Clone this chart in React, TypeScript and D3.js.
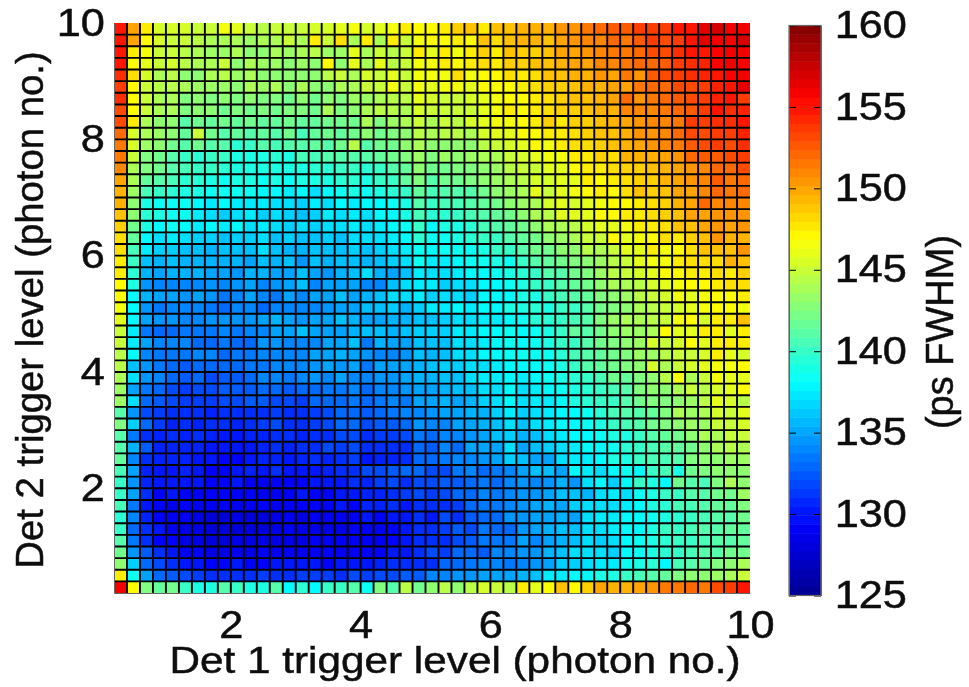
import React, { useEffect, useRef } from 'react';
import * as d3 from 'd3';

const xTicks = [2, 4, 6, 8, 10];
const yTicks = [2, 4, 6, 8, 10];
const barTicks = [125, 130, 135, 140, 145, 150, 155, 160];
const xLabel = 'Det 1 trigger level (photon no.)';
const yLabel = 'Det 2 trigger level (photon no.)';
const barLabel = '(ps FWHM)';

// jet colormap anchors, in ps
const jetValues = [125, 129.4, 138.1, 146.9, 155.6, 160];
const jetColors = ['#00008f', '#0000ff', '#00ffff', '#ffff00', '#ff0000', '#800000'];

// one row per detector 2 level, from 10 down to 0.2
const fwhmRows = [
[155,150, 147.5,145.5,145.5,145.5,145,145,146.5,146,145,144.5,145,145,145,145.5,145.5,146,146.5,145.5,146,146.5,147.5,147, 147,147.5,148.5,149,147.5,149,149,149.5,149.5,149.5,150.5,150.5,151.5,152,152.5,152.5,153.5,153.5,153.5,155,155,156.5,157,156,156],
[155,150, 147,145.5,145,145,144.5,144,144,144,143.5,144,144,145,144,147.5,145,148,144,147.5,144,147.5,145,146.5, 147,147,147.5,147,149,148,149,149.5,149.5,149,150,150.5,151,151,152,151.5,152.5,153.5,153,153.5,155,156.5,156,155.5,157],
[155,147.5, 146.5,145,145,144.5,144,143.5,143.5,144,143,143,144,143.5,144,144.5,143.5,143.5,146,144,145,144.5,145,147.5, 146,147.5,146.5,147.5,148.5,147.5,149,148.5,148.5,149,150,150,150.5,151,151.5,151.5,152,153,153,154,155,155,155.5,156,156],
[155,147, 146,145,145.5,144.5,144,144,145,143,144,143.5,143.5,143,143.5,143,147,143,146,144,146,144.5,145,146.5, 146.5,147.5,147,147.5,148,147.5,148.5,148.5,149,149,149.5,150,150,151,151,151.5,152,152,152.5,153.5,154,154.5,155.5,156,155.5],
[154,148, 145.5,144,144.5,143,143,144,144.5,143.5,144,143,143,143,143,143,144.5,145,144,145.5,145,146,145,146.5, 146.5,146.5,148,146.5,147,147,148,147.5,148,149,149,149.5,149.5,150.5,150,151.5,150.5,152.5,153,153.5,154,154.5,155,155.5,156],
[153.5,147, 145,144.5,144.5,144,143.5,143.5,143.5,143,144,143.5,144,143,144,143,143,144,144,145,145,146.5,145,146.5, 146,146.5,146.5,146,147,147,147,147.5,148,148.5,148.5,149,149.5,149.5,150,150,151.5,152,152,153,153,153.5,154.5,155,156.5],
[154,147, 145,144,144,142.5,143,142.5,143,142.5,143,142.5,142.5,142,143,142,143,142.5,143.5,143.5,144,144.5,144.5,146, 145.5,145,145,145.5,146,146.5,147,147,147.5,148,148.5,149,149,149.5,150,152,150.5,151.5,152,152.5,153,153.5,154.5,155,153.5],
[153,147, 145,144,144,142.5,143,143,142,142.5,142,142.5,142,142.5,142.5,142,144,142.5,143,144,144.5,144.5,144,145.5, 145,145,145,145,146,146.5,147.5,147,147.5,148,148.5,148.5,149,149.5,149.5,151,151,151,151.5,152,152.5,153.5,155,154,154.5],
[153,147.5, 144,143,143,141,142,141.5,142,141.5,142,141.5,141.5,142,141.5,141.5,142,142,142,144,142.5,143.5,144,145, 144,145,144.5,145.5,146,146.5,146.5,147,147.5,148.5,147.5,148.5,148.5,149,149.5,150,150.5,151,151,151.5,153.5,153.5,154,154,155],
[152,145.5, 144,143.5,143,141.5,145,142,141,141.5,141,141.5,141,142,140.5,141.5,142,141.5,142,143,142,142.5,143,144.5, 144,144.5,144.5,144,145.5,146,146,147,147,147.5,147.5,148,148.5,149,149,149.5,150.5,150.5,151,152,153,153,153.5,153.5,154.5],
[151.5,145.5, 143.5,143,142,141,142,141,141,139.5,140,141,140.5,141,141,141.5,141,142,144.5,141,142,142,143,144, 143,143,143,143,144.5,145,145.5,146,147,146.5,147.5,148,148,148.5,149,149.5,150,150.5,151,151.5,152.5,153,153.5,153,154],
[151.5,145, 142.5,142,141,140,139.5,140,140,139,139,139,139.5,139,140.5,140.5,141,141,141,141,141.5,142,142.5,143.5, 142.5,143.5,143,143.5,144,144,145,145.5,146,146.5,146.5,147.5,147.5,148.5,148,149.5,149.5,149.5,150,150.5,152,152.5,152.5,153,153.5],
[151,144, 142.5,142,141,140.5,140,140,139.5,139,139,139,139,139,139,139.5,139.5,140,140,139.5,140,141,141.5,143, 142,142,142.5,142.5,143,143.5,144.5,145,145,146,146,147,147.5,147.5,148,148.5,148.5,149,149.5,150,150.5,151,152,152,153],
[150,144, 141.5,141,140.5,139.5,139.5,139,138.5,139,139,138.5,139,138.5,139,139,139,139.5,139.5,139,140,140,141.5,142.5, 141,142,142,142.5,143,143.5,144,144.5,145.5,145.5,146,146,147.5,147,147.5,148,148.5,148.5,149.5,150,150.5,151,152.5,151.5,152],
[149.5,143.5, 140.5,140,139.5,139,139,138.5,138.5,138.5,138.5,138,138,137.5,138,137,138,138.5,139,138.5,139,139.5,140,141.5, 140.5,141,141,141,142,143,143.5,144,146,145,146,146.5,147,147.5,147,148,149,148.5,149,150,150,151,152,151.5,152],
[149.5,143, 139,138.5,138.5,138.5,138,137.5,138,137.5,137.5,137.5,137,137,136.5,137.5,137,138,137.5,138,138,138.5,139,141, 140,140.5,140.5,141,141.5,142,143,143.5,144,145.5,146,145.5,146,146.5,147,147,147.5,148,148.5,149.5,150,152,151,151,151],
[149,143, 139.5,139,138.5,138.5,137.5,137,136.5,137,137.5,136.5,137,136.5,136,136.5,137.5,137,137.5,137,138,138,139,140.5, 139.5,139.5,140,140.5,141,141.5,142,143,144,144.5,146,146,146,147,147,147.5,147.5,148,148.5,149,150,150,150.5,150.5,150.5],
[148.5,142, 139,138,138.5,138,137.5,138,137.5,138,137,137.5,137,136.5,137,136.5,137,137,137.5,137,137.5,138,138.5,140, 138,139,139,139.5,140.5,141,141.5,142,143,144,144,144.5,145.5,146,146,146.5,147.5,147.5,148,149,149,150,150.5,150,150.5],
[148,141.5, 138,137,137.5,137,136.5,136.5,136,136.5,136.5,137,136,136.5,136,136,136.5,136,137,137,137,137.5,138,139.5, 138.5,138.5,139,139.5,140,140,141,141.5,142,143,143.5,144,145,145,147,146,146.5,147,148,147.5,148.5,149,150.5,149.5,149.5],
[148,140.5, 137.5,136.5,136.5,136,136,135.5,136,136,136,137,136,135.5,135.5,136,136,136,136.5,136,136.5,137,137.5,138.5, 138,138.5,138.5,138.5,139,140,140,141,142,142,143,143,144.5,144,145,146,146,147.5,146.5,147,148,149,149,149,150.5],
[147.5,140, 136,135.5,136,135.5,135.5,135.5,135.5,135.5,135,136,135.5,136,134.5,136,135.5,136,136,135.5,136,136.5,137,138.5, 137.5,137.5,138,138.5,138.5,139,138.5,140,141,141.5,142,142.5,143,143.5,144.5,145,146,146.5,146.5,147.5,148,148,148,149.5,149],
[147.5,139.5, 135.5,135,135.5,135.5,135.5,135,135,134.5,135.5,135.5,135,135,136,135,134.5,135.5,136,137,135.5,135,136,137.5, 137,137,137.5,138,138,138.5,139,139.5,140,141,141,142,142.5,143.5,144.5,145,145.5,146,147,147,147.5,147.5,148,147.5,148.5],
[147,139, 134.5,134,134,134,134,134.5,134,134.5,135,134,134.5,135,136,134,135,135,135,134,134,136,137,137.5, 137.5,136.5,137,137,138,138,138.5,139,140,140,141,141.5,142,143,144,144,144.5,145.5,146,146.5,147,147,147.5,148,148],
[147,138, 135.5,135,135,134.5,135,134.5,133.5,134,135,134,133.5,135,134,135,135,136,135,135.5,136,137,137,137.5, 136.5,137,137,136.5,138,138,138,139,139,140,140.5,141,141.5,142.5,143,143.5,144.5,145,145.5,146.5,146,146.5,147,147,147.5],
[146.5,138, 134.5,133.5,134,134,134,133.5,133,134,134,133,134,134,134,134,134.5,135,135, 136,136,136.5,135.5,136.5,137.5,137.5,138,137.5,138,138,139, 139,139.5,139,140,140,141,142,142.5,143,144,144.5,145,145.5,146,146.5,147,147,146.5],
[146,138, 135,134.5,134.5,134,134,134.5,134.5,134.5,134.5,135,135.5,135,134.5,135,135,136,135.5, 135,135,135.5,135.5,136,136,136.5,137,137,137.5,137.5,138, 138.5,139.5,139.5,140,140.5,141,142.5,143.5,144,144,144.5,145,146.5,147,145.5,147.5,147.5,149],
[145,137.5, 133.5,133,133,133.5,133.5,133.5,134,133.5,134,134,135,135,136,135,135,135,135.5, 136,136,135.5,136,136.5,136.5,136.5,137.5,137.5,138,138,138.5, 138,138.5,139,140,141.5,141,142,143,143.5,143.5,144,147,146,146,147.5,147.5,146,147.5],
[145,137.5, 135,134,134,134,133,133,133.5,133,133,134.5,134.5,134,134,134,135,135,136, 133.5,135.5,135,135,136,136,136,137,137,137.5,138,138.5, 138,138.5,139,140,140,141,142,142.5,143,143.5,145.5,145,145.5,147,146,147.5,147.5,147.5],
[144.5,138, 134,133.5,133.5,133.5,134,134,133,133.5,133.5,134,134,134,134,135,135,135.5,135, 134.5,134,134,134.5,136,135.5,136,137,137,138,138,138.5, 138.5,138.5,138.5,139.5,140.5,141,141.5,142,142.5,143.5,143.5,144.5,145,145,145.5,147.5,146,145.5],
[144.5,136, 134.5,133.5,133,132.5,133,133,133,133,133.5,133.5,134,134,134,134.5,135,134.5,135, 133.5,135,135,135,135.5,136,136.5,136.5,137,137,137.5,138, 138,138,138.5,139,140,141,141.5,142,142.5,143,145.5,144,145,145.5,146,146.5,146.5,147],
[144,137, 134.5,134,133,132.5,133,132,132.5,132.5,133,134,134,133.5,134,134.5,134,135,134, 134,134.5,134.5,135,135.5,135.5,136,136,137,137.5,137.5,138, 137.5,138,138.5,139,139.5,140,140.5,142,141.5,142.5,143,144.5,146.5,144,145,146.5,146,146],
[143.5,135, 133.5,133,132,131.5,132,132,132.5,132.5,132.5,133,133,132.5,133,133,133.5,133.5,134, 133,134,134,134.5,135,135,135.5,136,136,137,137,138, 137,137.5,138,138.5,139,139.5,140,140.5,141,142.5,143,143,144,145,144.5,145.5,146,147],
[143.5,137, 133,132.5,132,131.5,131.5,131.5,132,132,132.5,132.5,132,132,131.5,133,133,133,133.5, 133,133.5,134,133.5,135,135,135.5,135,135.5,136.5,137,138, 137,137.5,137.5,138,139,139.5,140,140,141,142,142.5,142.5,143,143.5,144.5,146,145.5,144.5],
[141,134.5, 132,131.5,131,131,131,130.5,131,131,131,131,131.5,131,131,131.5,132,133,133, 132.5,133,133.5,134,134,134.5,135,135,135.5,135.5,136.5,137.5, 136.5,137,137.5,138,138,138.5,139.5,140.5,141,141,141.5,142.5,144,143.5,144,145.5,145,146],
[142.5,136.5, 133,131.5,130.5,131,130.5,131,131,130.5,131,131.5,132,131,131,131.5,132,133,133, 132,132.5,132.5,133,134.5,134,134,135,135,135.5,136,137, 136,137,137.5,138,138,138.5,139,140,140.5,141,142,142.5,143,143.5,143.5,145,145,145.5],
[141,133.5, 131,130.5,131,130.5,131,130.5,130,130,130.5,130.5,131,131,130.5,131,131,132,132, 131,131.5,131.5,132,133.5,133,134,134,134.5,135,136,136.5, 135.5,136,137,137.5,138,138,138.5,139,139,140,141,141.5,142,143,144,144,145,145],
[141,135.5, 132.5,130.5,130.5,130.5,130.5,130,130,130,130,130.5,131,130.5,131,131,132,131.5,132, 131,131,131,131,133,132.5,134,133,135,135,135,137, 135,136,136.5,137,137.5,138,138,138.5,139.5,140,140.5,141,141.5,142,143,144,144.5,144],
[141.5,134, 131,130.5,130.5,130.5,130,130,129.5,129.5,130,130.5,130.5,130,130.5,131,130.5,131,131.5, 130,130.5,130.5,131,133,133,133.5,134,134,134.5,135,136.5, 136,135,135,137,137.5,137.5,138,139,139,140,140.5,140.5,141,142.5,143,143,143.5,143.5],
[140.5,135, 130.5,130,130,130.5,130,129.5,129.5,130,130.5,130,131,130,130,130,130.5,131,131,132,132,132.5,133,133, 132,132,133.5,134,133,133.5,134,135,136,136,135,138,137.5,137,138,138.5,138,140,140.5,139,142,142.5,143,143,143],
[140,134.5, 130.5,130,130,130,130,129.5,129.5,130,129,129,129.5,129.5,129.5,130,130,130,131,130.5,131.5,132,131,132, 132,132.5,132.5,133,133.5,133,134,134.5,134,134.5,135.5,134.5,137,138,136.5,138,140,139,138,142,141,140.5,142.5,144,143],
[140,135, 131,129.5,130,129.5,129.5,129.5,129.5,129.5,129.5,129,129,129,130,129.5,129.5,130,130,130.5,130.5,131,131.5,132, 131.5,132,133,133,134,133.5,134,134.5,134.5,135,136,136,135.5,137,137.5,137,138.5,139,140,140,141,141,142,142,143.5],
[140.5,133.5, 130,129.5,129,129.5,129,129,129,129,129,129.5,129,129,129.5,129.5,129.5,130,129.5,130.5,130.5,131,130,131, 131,131,131.5,133,133.5,133.5,134,134.5,135,135.5,135,136.5,137,137,137,137.5,138,139,139.5,140.5,140.5,141,141.5,141.5,142.5],
[139.5,134, 130.5,129.5,129,129,128.5,128,128,128.5,128,128,128.5,129,128.5,129,129,129,129,130,129.5,130,130,131, 130,132,131,132.5,133,133,134.5,134.5,135,135,135.5,135,137,137.5,137.5,138,138,138.5,139,139.5,140,140.5,141,141,142],
[140,133, 131,130,129,128.5,128.5,128,128,128,128,128,128.5,129,128.5,128.5,128.5,128.5,129,129,129,129.5,130,131, 131,131.5,132.5,132,133.5,133,133,134.5,135,135.5,136,136,137,137,137.5,138,138,139,140,140,140.5,141,141,141.5,141.5],
[141,133.5, 131,129.5,129.5,128.5,128.5,128,128,128.5,128.5,128.5,128.5,128.5,128.5,129,129,129,129,129,129,129.5,130,131, 131,131,132,132.5,133.5,133.5,133.5,135,134,135,135.5,136,137,136.5,137,138,138.5,139,139.5,140,140,140.5,141,141,141.5],
[142,134.5, 132.5,131,130,129,129.5,128.5,128.5,129,128.5,129,129,129,129,129,129.5,129,129,129.5,129.5,130,130,131, 132,131.5,133,133,132.5,134,134,134.5,134.5,135.5,136,137,137,137,136.5,138,138.5,139,139.5,140,140.5,141,141,142,142],
[143,136.5, 133,132,131,130,130,129.5,129.5,130,129.5,129.5,130,130,130,130,129.5,130,130,130,130.5,131,131,131, 131,133,133,133.5,134,134,133.5,134,134.5,135,136.5,136.5,137,137.5,137.5,138.5,139,139.5,138,140.5,141,141.5,142.5,143,144],
[147.5,138.5, 135,133,132.5,132,131.5,131,131,131,131,131.5,131,131,131.5,131.5,131.5,131,132,131.5,132,132,132.5,132.5, 134,134,134.5,134.5,135,135,135,135.5,136,137.5,137.5,138,138,139,139,140,140.5,141,141.5,142.5,143,143,143.5,144,145],
[156,147, 142.5,141.5,142,140,139,139,141,140,139,139,141,138,139.5,138,140,140,141,138.5,142.5,141,144.5,142, 143,144.5,143,144.5,145.5,145,144.5,147.5,146,147,149,147,148.5,150,149.5,149.5,150,150.5,151.5,151.5,152,151.5,153,153.5,155],
];

const width = 969;
const height = 687;
const levelMin = 0.2;
const levelMax = 10;
const plotBox = { left: 114, right: 750, top: 23, bottom: 593 };
const barBox = { left: 789, right: 821, top: 25.5, bottom: 595.5 };
const fontFamily = '"Liberation Sans", Arial, sans-serif';
const inkColor = '#111';

export default function App() {
  const ref = useRef<SVGSVGElement>(null);

  useEffect(() => {
    const svg = d3.select(ref.current);
    svg.selectAll('*').remove();

    svg.append('defs').append('filter').attr('id', 'soft')
      .attr('x', 0).attr('y', 0).attr('width', 1).attr('height', 1)
      .append('feGaussianBlur').attr('stdDeviation', 0.7);

    const root = svg.append('g').attr('filter', 'url(#soft)');
    root.append('rect').attr('width', width).attr('height', height).attr('fill', '#fff');

    const color = d3.scaleLinear<string>().domain(jetValues).range(jetColors).clamp(true);

    const x = d3.scaleLinear().domain([levelMin, levelMax]).range([plotBox.left, plotBox.right]);
    const y = d3.scaleLinear().domain([levelMin, levelMax]).range([plotBox.bottom, plotBox.top]);
    const nCols = fwhmRows[0].length;
    const step = (levelMax - levelMin) / nCols;

    // cells
    const cells = fwhmRows.flatMap((row, r) => row.map((v, c) => ({ v, c, r: fwhmRows.length - 1 - r })));
    const cellW = x(levelMin + step) - x(levelMin);
    const cellH = y(levelMin) - y(levelMin + step);
    root.append('g').selectAll('rect').data(cells).join('rect')
      .attr('x', d => x(levelMin + d.c * step))
      .attr('y', d => y(levelMin + (d.r + 1) * step))
      .attr('width', cellW)
      .attr('height', cellH)
      .attr('fill', d => color(d.v));

    // grid between the cells
    const edges = d3.range(1, nCols);
    const grid = root.append('g').attr('stroke', '#000').attr('stroke-width', 1.9);
    grid.selectAll('line.v').data(edges).join('line').attr('class', 'v')
      .attr('x1', d => x(levelMin + d * step)).attr('x2', d => x(levelMin + d * step))
      .attr('y1', plotBox.top).attr('y2', plotBox.bottom);
    grid.selectAll('line.h').data(edges).join('line').attr('class', 'h')
      .attr('y1', d => y(levelMin + d * step)).attr('y2', d => y(levelMin + d * step))
      .attr('x1', plotBox.left).attr('x2', plotBox.right);

    // axes
    const xAxis = root.append('g')
      .attr('transform', `translate(0,${plotBox.bottom})`)
      .call(d3.axisBottom(x).tickValues(xTicks).tickFormat(d3.format('d')).tickSize(0).tickPadding(18));
    const yAxis = root.append('g')
      .attr('transform', `translate(${plotBox.left},0)`)
      .call(d3.axisLeft(y).tickValues(yTicks).tickFormat(d3.format('d')).tickSize(0).tickPadding(8));

    // colorbar
    const bar = d3.scaleLinear().domain([125, 160]).range([barBox.bottom, barBox.top]);
    const levels = d3.range(64).map(i => 125 + (i * 35) / 64);
    root.append('g').selectAll('rect').data(levels).join('rect')
      .attr('x', barBox.left)
      .attr('y', d => bar(d + 35 / 64))
      .attr('width', barBox.right - barBox.left)
      .attr('height', (barBox.bottom - barBox.top) / 64 + 0.5)
      .attr('fill', d => color(d + 35 / 128));
    root.append('g')
      .attr('transform', `translate(${barBox.left},0)`)
      .call(d3.axisLeft(bar).tickValues(barTicks).tickFormat(() => '').tickSizeInner(-7).tickSizeOuter(0));
    const barAxis = root.append('g')
      .attr('transform', `translate(${barBox.right},0)`)
      .call(d3.axisRight(bar).tickValues(barTicks).tickFormat(d3.format('d')).tickSizeInner(-7).tickSizeOuter(0).tickPadding(12));
    root.append('rect')
      .attr('x', barBox.left).attr('y', barBox.top)
      .attr('width', barBox.right - barBox.left).attr('height', barBox.bottom - barBox.top)
      .attr('fill', 'none').attr('stroke', '#666').attr('stroke-width', 1.2);

    // the source picture is stretched sideways, so the tick text is too
    [xAxis, yAxis, barAxis].forEach(a => {
      a.selectAll('text')
        .attr('font-family', fontFamily).attr('font-size', 38)
        .attr('fill', inkColor).attr('stroke', inkColor).attr('stroke-width', 0.5)
        .attr('transform', 'scale(1.14,1)');
    });
    root.selectAll('.domain').attr('stroke', '#666');

    // labels
    const labelFont = (t: any) => t
      .attr('text-anchor', 'middle')
      .attr('font-family', fontFamily)
      .attr('fill', inkColor).attr('stroke', inkColor).attr('stroke-width', 0.5);
    root.append('text')
      .attr('transform', 'translate(455,673) scale(1.143,1)')
      .attr('font-size', 37)
      .call(labelFont)
      .text(xLabel);
    root.append('text')
      .attr('transform', 'translate(43,310) rotate(-90)')
      .attr('font-size', 38.3)
      .call(labelFont)
      .text(yLabel);
    root.append('text')
      .attr('transform', 'translate(953,332) rotate(-90)')
      .attr('font-size', 38)
      .call(labelFont)
      .text(barLabel);
  }, []);

  return (
    <svg
      ref={ref}
      width={width}
      height={height}
      style={{ position: 'absolute', left: 0, top: 0, display: 'block' }}
    />
  );
}
